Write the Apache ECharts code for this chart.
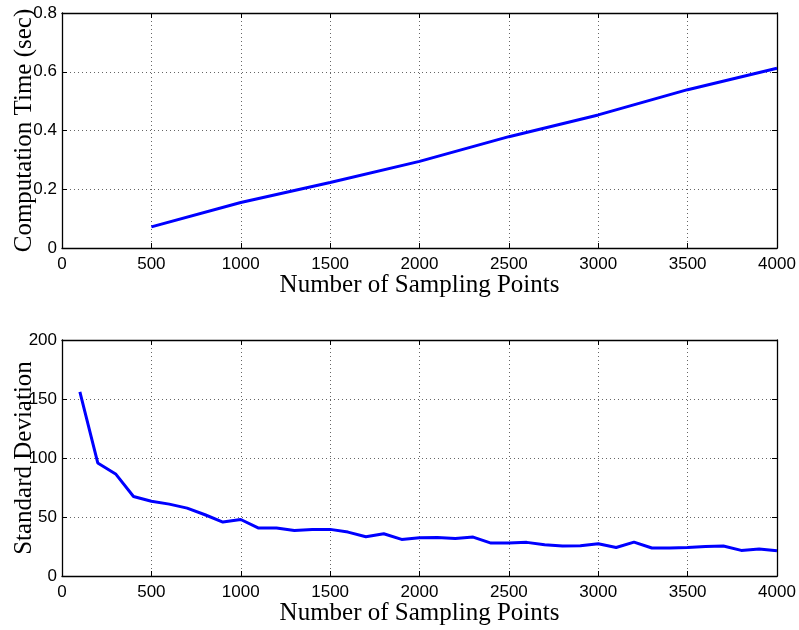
<!DOCTYPE html>
<html>
<head>
<meta charset="utf-8">
<script src="https://cdn.jsdelivr.net/npm/echarts@6/dist/echarts.min.js"></script>
<style>
  html, body { margin: 0; padding: 0; background: #fff; }
  #chart { width: 799px; height: 630px; }
</style>
</head>
<body>
<div id="chart"></div>
<script>
// computation time vs sampling points
const timeX = [500, 1000, 1500, 2000, 2500, 3000, 3500, 4000];
const timeY = [0.072, 0.155, 0.223, 0.295, 0.379, 0.453, 0.539, 0.612];

// standard deviation vs sampling points (every 100)
const stdX = [100, 200, 300, 400, 500, 600, 700, 800, 900, 1000,
  1100, 1200, 1300, 1400, 1500, 1600, 1700, 1800, 1900, 2000,
  2100, 2200, 2300, 2400, 2500, 2600, 2700, 2800, 2900, 3000,
  3100, 3200, 3300, 3400, 3500, 3600, 3700, 3800, 3900, 4000];
const stdY = [156, 95.8, 86.5, 67.4, 63.4, 60.9, 57.5, 51.9, 45.7, 47.9,
  40.6, 40.6, 38.6, 39.5, 39.5, 37.2, 33.3, 35.8, 31, 32.4,
  32.7, 31.8, 33, 27.9, 27.9, 28.5, 26.5, 25.4, 25.6, 27.3,
  24.2, 28.7, 23.7, 23.7, 24.2, 25.1, 25.4, 21.7, 22.8, 21.4];

const xLabel = 'Number of Sampling Points';
const yLabelTop = 'Computation Time (sec)';
const yLabelBottom = 'Standard Deviation';

const chart = echarts.init(document.getElementById('chart'));

const tickFont = { fontFamily: 'Liberation Sans', fontSize: 17, color: '#000' };
const nameFont = { fontFamily: 'Liberation Serif', fontSize: 25, color: '#000' };
const gridLine = { show: true, lineStyle: { color: '#666', type: [1, 3], width: 1 } };
const boxLine = { show: true, onZero: false, lineStyle: { color: '#000', width: 1.3 } };
const ticks = { show: true, inside: true, length: 5, lineStyle: { color: '#000' } };

function mainX(idx) {
  return {
    type: 'value', gridIndex: idx, min: 0, max: 4000, interval: 500,
    name: xLabel, nameLocation: 'middle', nameGap: 25, nameTextStyle: nameFont,
    nameMoveOverlap: false,
    axisLine: boxLine, axisTick: ticks, splitLine: gridLine,
    axisLabel: Object.assign({ margin: 8, formatter: v => String(v) }, tickFont),
  };
}
function sideX(idx) {
  return {
    type: 'value', gridIndex: idx, position: 'top', min: 0, max: 4000, interval: 500,
    axisLine: boxLine, axisTick: ticks, splitLine: { show: false }, axisLabel: { show: false },
  };
}
function mainY(idx, max, interval, name) {
  return {
    type: 'value', gridIndex: idx, min: 0, max: max, interval: interval,
    name: name, nameLocation: 'middle', nameGap: 25, nameTextStyle: nameFont,
    nameMoveOverlap: false,
    axisLine: boxLine, axisTick: ticks, splitLine: gridLine,
    axisLabel: Object.assign({ margin: 5, formatter: v => String(v) }, tickFont),
  };
}
function sideY(idx, max, interval) {
  return {
    type: 'value', gridIndex: idx, position: 'right', min: 0, max: max, interval: interval,
    axisLine: boxLine, axisTick: ticks, splitLine: { show: false }, axisLabel: { show: false },
  };
}

chart.setOption({
  animation: false,
  grid: [
    { left: 62, top: 13, width: 715, height: 235, outerBoundsMode: 'none', containLabel: false },
    { left: 62, top: 340, width: 715, height: 236, outerBoundsMode: 'none', containLabel: false },
  ],
  xAxis: [mainX(0), sideX(0), mainX(1), sideX(1)],
  yAxis: [
    mainY(0, 0.8, 0.2, yLabelTop), sideY(0, 0.8, 0.2),
    mainY(1, 200, 50, yLabelBottom), sideY(1, 200, 50),
  ],
  series: [
    {
      type: 'line', xAxisIndex: 0, yAxisIndex: 0, showSymbol: false,
      lineStyle: { color: '#0000ff', width: 3 },
      data: timeX.map((x, i) => [x, timeY[i]]),
    },
    {
      type: 'line', xAxisIndex: 2, yAxisIndex: 2, showSymbol: false,
      lineStyle: { color: '#0000ff', width: 3 },
      data: stdX.map((x, i) => [x, stdY[i]]),
    },
  ],
});
</script>
</body>
</html>
